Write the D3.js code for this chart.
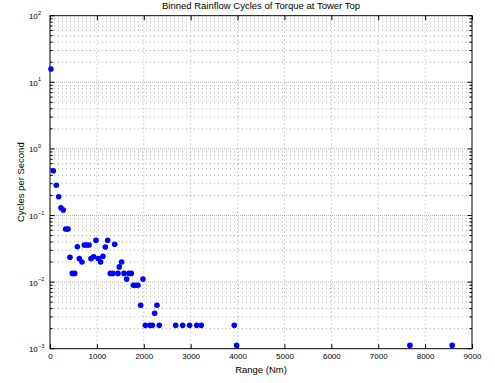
<!DOCTYPE html>
<html><head><meta charset="utf-8">
<script src="https://cdn.jsdelivr.net/npm/d3@7"></script>
<style>body{margin:0;background:#fff}svg{display:block}text{font-family:Helvetica,"Liberation Sans",Arial,sans-serif}</style>
</head><body>
<script>
const rangeNm = [21,71,134,185,234,284,334,384,426,476,526,583,625,682,732,782,832,874,931,981,1030,1080,1130,1180,1230,1286,1343,1379,1450,1478,1528,1578,1635,1684,1734,1777,1827,1876,1933,1983,2033,2132,2182,2231,2281,2331,2680,2829,2978,3128,3227,3930,3980,7676,8578];
const cyclesPerSec = [15.8,0.471,0.284,0.191,0.131,0.121,0.0627,0.0627,0.0236,0.0135,0.0135,0.034,0.0225,0.020,0.036,0.036,0.036,0.0225,0.024,0.0425,0.0225,0.020,0.0244,0.0336,0.0425,0.0135,0.0135,0.037,0.0135,0.0169,0.020,0.0135,0.0111,0.0135,0.0135,0.00895,0.00895,0.00895,0.00449,0.0111,0.00224,0.00224,0.00224,0.0034,0.0045,0.00224,0.00224,0.00224,0.00224,0.00224,0.00224,0.00224,0.00112,0.00112,0.00112];
const xTicks = [0,1000,2000,3000,4000,5000,6000,7000,8000,9000];
const yDecades = [-3,-2,-1,0,1,2];
const titleText = "Binned Rainflow Cycles of Torque at Tower Top";
const xLabel = "Range (Nm)";
const yLabel = "Cycles per Second";

const W=495,H=383, L=50, R=472, T=15.7, B=348.7;
const svg=d3.select("body").append("svg").attr("width",W).attr("height",H);
svg.append("rect").attr("width",W).attr("height",H).attr("fill","#fff");
const x=d3.scaleLinear().domain([0,9000]).range([L,R]);
const y=d3.scaleLog().domain([1e-3,1e2]).range([B,T]);

// grid
const grid=svg.append("g").attr("stroke","#000").attr("stroke-width",0.7).attr("stroke-dasharray","1,3").attr("opacity",0.45);
xTicks.slice(1,-1).forEach(v=>grid.append("line").attr("x1",x(v)).attr("x2",x(v)).attr("y1",T).attr("y2",B));
const minorVals=[];
yDecades.slice(0,-1).forEach(e=>{for(let m=1;m<10;m++)minorVals.push(m*Math.pow(10,e));});
minorVals.push(100);
minorVals.forEach(v=>{ if(v>1e-3*1.0001 && v<1e2*0.9999) grid.append("line").attr("x1",L).attr("x2",R).attr("y1",y(v)).attr("y2",y(v)); });
const grid2=svg.append("g").attr("stroke","#000").attr("stroke-width",0.7).attr("stroke-dasharray","1,3").attr("stroke-dashoffset",2).attr("opacity",0.4);
yDecades.slice(1,-1).forEach(e=>grid2.append("line").attr("x1",L).attr("x2",R).attr("y1",y(Math.pow(10,e))).attr("y2",y(Math.pow(10,e))));

// axes via d3
const fs=8;
const xAxis=d3.axisBottom(x).tickValues(xTicks).tickSize(-4.5).tickPadding(5).tickFormat(d3.format("d"));
const gx=svg.append("g").attr("transform",`translate(0,${B})`).call(xAxis);
gx.select(".domain").remove();
gx.selectAll("text").attr("font-size",fs).attr("fill","#000").attr("font-family","Helvetica,'Liberation Sans',Arial,sans-serif");
gx.selectAll("line").attr("stroke","#000");
const gxt=svg.append("g").attr("transform",`translate(0,${T})`).call(d3.axisTop(x).tickValues(xTicks).tickSize(-4.5).tickFormat(""));
gxt.select(".domain").remove(); gxt.selectAll("line").attr("stroke","#000");

const majorY=yDecades.map(e=>Math.pow(10,e));
const minorY=minorVals.filter(v=>!majorY.some(m=>Math.abs(m-v)/v<1e-6));
[["left",L,4.5],["right",R,-4.5]].forEach(([side,pos,s])=>{
  const g=svg.append("g");
  majorY.forEach(v=>g.append("line").attr("x1",pos).attr("x2",pos+s).attr("y1",y(v)).attr("y2",y(v)).attr("stroke","#000"));
  minorY.forEach(v=>g.append("line").attr("x1",pos).attr("x2",pos+s*0.6).attr("y1",y(v)).attr("y2",y(v)).attr("stroke","#000"));
});
// y tick labels with superscripts
const yl=svg.append("g");
yDecades.forEach(e=>{
  const py=y(Math.pow(10,e));
  yl.append("text").attr("x",37.8).attr("y",py+3.5).attr("font-size",fs).attr("text-anchor","end").text("10");
  yl.append("text").attr("x",38).attr("y",py-1).attr("font-size",5.5).attr("text-anchor","start").text(e<0?"\u2212"+(-e):String(e));
});

// box
svg.append("rect").attr("x",L).attr("y",T).attr("width",R-L).attr("height",B-T).attr("fill","none").attr("stroke","#000").attr("stroke-width",1);

// points
svg.append("g").selectAll("circle").data(rangeNm.map((r,i)=>[r,cyclesPerSec[i]])).join("circle")
  .attr("cx",d=>x(d[0])).attr("cy",d=>y(d[1])).attr("r",2.8).attr("fill","#0000ff");

// labels
const lfs=9.5;
svg.append("text").attr("x",(L+R)/2).attr("y",9).attr("text-anchor","middle").attr("font-size",lfs).text(titleText);
svg.append("text").attr("x",(L+R)/2).attr("y",373).attr("text-anchor","middle").attr("font-size",lfs).text(xLabel);
svg.append("text").attr("transform",`translate(23.5,${(T+B)/2}) rotate(-90)`).attr("text-anchor","middle").attr("font-size",lfs).text(yLabel);
</script>
</body></html>
